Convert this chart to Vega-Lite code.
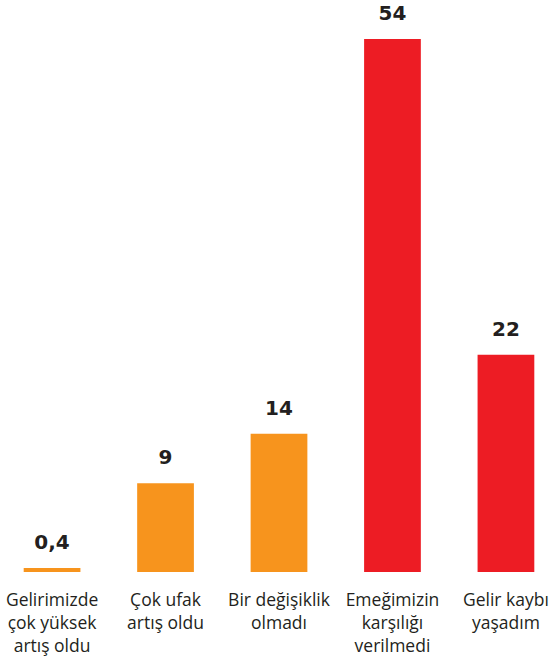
{
  "$schema": "https://vega.github.io/schema/vega-lite/v6.json",
  "width": 556,
  "height": 533,
  "autosize": {"type": "none"},
  "padding": {"left": 1, "top": 39, "right": 0, "bottom": 87},
  "background": "white",
  "config": {"view": {"stroke": null}},
  "data": {
    "values": [
      {"cat": "Gelirimizde|çok yüksek|artış oldu", "value": 0.4, "label": "0,4", "group": "artış"},
      {"cat": "Çok ufak|artış oldu", "value": 9, "label": "9", "group": "artış"},
      {"cat": "Bir değişiklik|olmadı", "value": 14, "label": "14", "group": "artış"},
      {"cat": "Emeğimizin|karşılığı|verilmedi", "value": 54, "label": "54", "group": "kayıp"},
      {"cat": "Gelir kaybı|yaşadım", "value": 22, "label": "22", "group": "kayıp"}
    ]
  },
  "encoding": {
    "x": {
      "field": "cat",
      "type": "nominal",
      "sort": null,
      "scale": {"paddingInner": 0.5, "paddingOuter": 0.2},
      "axis": {
        "title": null,
        "domain": false,
        "ticks": false,
        "labelAngle": 0,
        "labelPadding": 19,
        "labelBaseline": "top",
        "labelFont": "Open Sans",
        "labelFontSize": 17.5,
        "labelLineHeight": 23,
        "labelColor": "#231F20",
        "labelLimit": 0,
        "labelOverlap": false,
        "labelExpr": "split(datum.value, '|')"
      }
    },
    "y": {
      "field": "value",
      "type": "quantitative",
      "scale": {"domain": [0, 54], "nice": false, "zero": true},
      "axis": null
    }
  },
  "layer": [
    {
      "mark": {"type": "bar"},
      "encoding": {
        "color": {
          "field": "group",
          "type": "nominal",
          "scale": {"domain": ["artış", "kayıp"], "range": ["#F7941D", "#ED1C24"]},
          "legend": null
        }
      }
    },
    {
      "mark": {
        "type": "text",
        "baseline": "alphabetic",
        "dy": -19,
        "font": "DejaVu Sans",
        "fontWeight": "bold",
        "fontSize": 20,
        "color": "#231F20"
      },
      "encoding": {"text": {"field": "label"}}
    }
  ]
}
